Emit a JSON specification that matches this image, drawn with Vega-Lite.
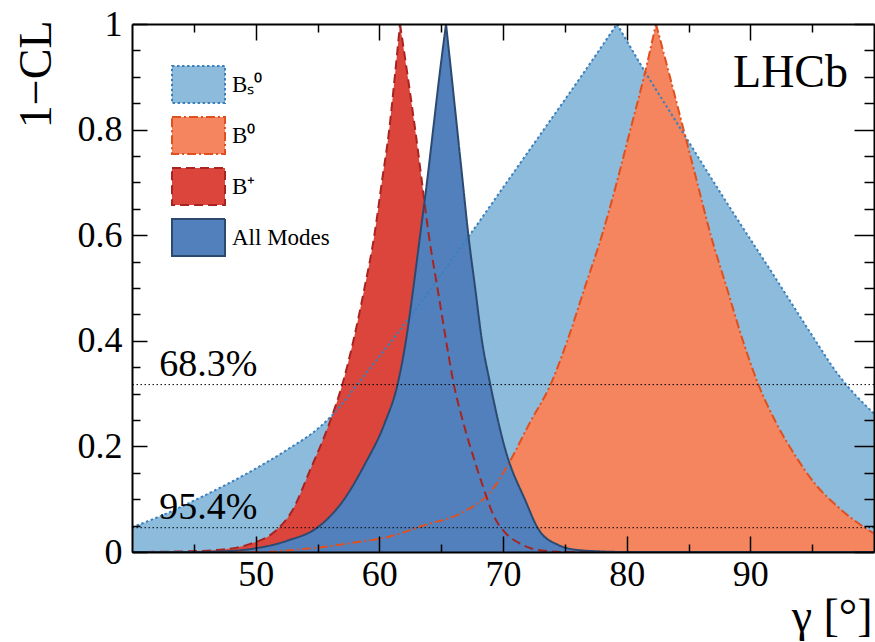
{
  "$schema": "https://vega.github.io/schema/vega-lite/v6.json",
  "width": 742,
  "height": 528,
  "autosize": {"type": "none"},
  "padding": {"left": 132, "top": 24, "right": 1, "bottom": 90},
  "background": "white",
  "config": {"font": "Liberation Serif", "view": {"stroke": null}},
  "datasets": {
    "curves": [
      {"s":"Bₛ⁰","h":"L","g":40,"p":0.047},{"s":"Bₛ⁰","h":"L","g":42.1,"p":0.066},{"s":"Bₛ⁰","h":"L","g":45.6,"p":0.104},{"s":"Bₛ⁰","h":"L","g":49.4,"p":0.15},{"s":"Bₛ⁰","h":"L","g":52.5,"p":0.193},{"s":"Bₛ⁰","h":"L","g":55.2,"p":0.237},{"s":"Bₛ⁰","h":"L","g":56.8,"p":0.275},{"s":"Bₛ⁰","h":"L","g":58.3,"p":0.32},{"s":"Bₛ⁰","h":"L","g":61.0,"p":0.40},{"s":"Bₛ⁰","h":"L","g":64.2,"p":0.5},{"s":"Bₛ⁰","h":"L","g":67.3,"p":0.6},{"s":"Bₛ⁰","h":"L","g":70.3,"p":0.7},{"s":"Bₛ⁰","h":"L","g":73.3,"p":0.8},{"s":"Bₛ⁰","h":"L","g":76.3,"p":0.9},{"s":"Bₛ⁰","h":"L","g":79.218,"p":1},
      {"s":"Bₛ⁰","h":"R","g":79.218,"p":1},{"s":"Bₛ⁰","h":"R","g":81.6,"p":0.905},{"s":"Bₛ⁰","h":"R","g":84,"p":0.815},{"s":"Bₛ⁰","h":"R","g":88,"p":0.665},{"s":"Bₛ⁰","h":"R","g":92,"p":0.52},{"s":"Bₛ⁰","h":"R","g":95,"p":0.41},{"s":"Bₛ⁰","h":"R","g":97.1,"p":0.336},{"s":"Bₛ⁰","h":"R","g":100,"p":0.262},
      {"s":"B⁰","h":"L","g":40,"p":0},{"s":"B⁰","h":"L","g":50.7,"p":0},{"s":"B⁰","h":"L","g":53,"p":0.004},{"s":"B⁰","h":"L","g":55.3,"p":0.009},{"s":"B⁰","h":"L","g":58,"p":0.018},{"s":"B⁰","h":"L","g":60.6,"p":0.028},{"s":"B⁰","h":"L","g":63.7,"p":0.051},{"s":"B⁰","h":"L","g":66.8,"p":0.076},{"s":"B⁰","h":"L","g":69.1,"p":0.117},{"s":"B⁰","h":"L","g":70.4,"p":0.165},{"s":"B⁰","h":"L","g":72.15,"p":0.244},{"s":"B⁰","h":"L","g":73.9,"p":0.32},{"s":"B⁰","h":"L","g":75.2,"p":0.40},{"s":"B⁰","h":"L","g":76.6,"p":0.5},{"s":"B⁰","h":"L","g":78.0,"p":0.6},{"s":"B⁰","h":"L","g":79.2,"p":0.7},{"s":"B⁰","h":"L","g":80.3,"p":0.8},{"s":"B⁰","h":"L","g":81.4,"p":0.9},{"s":"B⁰","h":"L","g":82.372,"p":1},
      {"s":"B⁰","h":"R","g":82.372,"p":1},{"s":"B⁰","h":"R","g":83.5,"p":0.9},{"s":"B⁰","h":"R","g":84.6,"p":0.8},{"s":"B⁰","h":"R","g":85.7,"p":0.7},{"s":"B⁰","h":"R","g":86.8,"p":0.6},{"s":"B⁰","h":"R","g":88.1,"p":0.5},{"s":"B⁰","h":"R","g":89.4,"p":0.40},{"s":"B⁰","h":"R","g":90.6,"p":0.32},{"s":"B⁰","h":"R","g":92.1,"p":0.244},{"s":"B⁰","h":"R","g":93.7,"p":0.18},{"s":"B⁰","h":"R","g":95.2,"p":0.13},{"s":"B⁰","h":"R","g":97.1,"p":0.085},{"s":"B⁰","h":"R","g":99.0,"p":0.05},{"s":"B⁰","h":"R","g":100,"p":0.035},
      {"s":"B⁺","h":"L","g":40,"p":0},{"s":"B⁺","h":"L","g":44,"p":0.001},{"s":"B⁺","h":"L","g":47.5,"p":0.005},{"s":"B⁺","h":"L","g":49.5,"p":0.015},{"s":"B⁺","h":"L","g":51.4,"p":0.036},{"s":"B⁺","h":"L","g":53.0,"p":0.08},{"s":"B⁺","h":"L","g":54.4,"p":0.155},{"s":"B⁺","h":"L","g":55.9,"p":0.24},{"s":"B⁺","h":"L","g":57.1,"p":0.325},{"s":"B⁺","h":"L","g":57.9,"p":0.40},{"s":"B⁺","h":"L","g":58.8,"p":0.5},{"s":"B⁺","h":"L","g":59.6,"p":0.6},{"s":"B⁺","h":"L","g":60.2,"p":0.7},{"s":"B⁺","h":"L","g":60.8,"p":0.8},{"s":"B⁺","h":"L","g":61.25,"p":0.9},{"s":"B⁺","h":"L","g":61.671,"p":1},
      {"s":"B⁺","h":"R","g":61.671,"p":1},{"s":"B⁺","h":"R","g":62.3,"p":0.9},{"s":"B⁺","h":"R","g":62.9,"p":0.8},{"s":"B⁺","h":"R","g":63.45,"p":0.7},{"s":"B⁺","h":"R","g":64.0,"p":0.6},{"s":"B⁺","h":"R","g":64.7,"p":0.5},{"s":"B⁺","h":"R","g":65.4,"p":0.40},{"s":"B⁺","h":"R","g":66.0,"p":0.32},{"s":"B⁺","h":"R","g":66.8,"p":0.244},{"s":"B⁺","h":"R","g":67.5,"p":0.188},{"s":"B⁺","h":"R","g":68.3,"p":0.13},{"s":"B⁺","h":"R","g":69.3,"p":0.066},{"s":"B⁺","h":"R","g":70.2,"p":0.036},{"s":"B⁺","h":"R","g":71.3,"p":0.017},{"s":"B⁺","h":"R","g":72.8,"p":0.004},{"s":"B⁺","h":"R","g":75,"p":0},{"s":"B⁺","h":"R","g":100,"p":0},
      {"s":"All Modes","h":"L","g":40,"p":0},{"s":"All Modes","h":"L","g":45,"p":0},{"s":"All Modes","h":"L","g":48,"p":0.002},{"s":"All Modes","h":"L","g":50,"p":0.007},{"s":"All Modes","h":"L","g":52.5,"p":0.021},{"s":"All Modes","h":"L","g":55.2,"p":0.05},{"s":"All Modes","h":"L","g":57.1,"p":0.098},{"s":"All Modes","h":"L","g":58.8,"p":0.165},{"s":"All Modes","h":"L","g":60.45,"p":0.245},{"s":"All Modes","h":"L","g":61.5,"p":0.32},{"s":"All Modes","h":"L","g":62.15,"p":0.40},{"s":"All Modes","h":"L","g":62.75,"p":0.5},{"s":"All Modes","h":"L","g":63.3,"p":0.6},{"s":"All Modes","h":"L","g":63.85,"p":0.7},{"s":"All Modes","h":"L","g":64.35,"p":0.8},{"s":"All Modes","h":"L","g":64.85,"p":0.9},{"s":"All Modes","h":"L","g":65.392,"p":1},
      {"s":"All Modes","h":"R","g":65.392,"p":1},{"s":"All Modes","h":"R","g":65.85,"p":0.9},{"s":"All Modes","h":"R","g":66.3,"p":0.8},{"s":"All Modes","h":"R","g":66.75,"p":0.7},{"s":"All Modes","h":"R","g":67.2,"p":0.6},{"s":"All Modes","h":"R","g":67.75,"p":0.5},{"s":"All Modes","h":"R","g":68.3,"p":0.40},{"s":"All Modes","h":"R","g":68.95,"p":0.32},{"s":"All Modes","h":"R","g":70.2,"p":0.193},{"s":"All Modes","h":"R","g":71.8,"p":0.098},{"s":"All Modes","h":"R","g":72.9,"p":0.042},{"s":"All Modes","h":"R","g":74.5,"p":0.013},{"s":"All Modes","h":"R","g":76,"p":0.004},{"s":"All Modes","h":"R","g":78,"p":0.001},{"s":"All Modes","h":"R","g":80,"p":0},{"s":"All Modes","h":"R","g":100,"p":0}
    ],
    "cls": [{"cl": 0.317, "t": "68.3%"}, {"cl": 0.046, "t": "95.4%"}],
    "tag": [{"t": "LHCb"}]
  },
  "layer": [
    {
      "data": {"name": "curves"},
      "mark": {"type": "area", "interpolate": "monotone"},
      "encoding": {
        "x": {"field": "g", "type": "quantitative", "scale": {"domain": [40, 100], "nice": false, "zero": false},
          "axis": {"orient": "bottom", "values": [45,50,55,60,65,70,75,80,85,90,95], "grid": false, "zindex": 1,
            "tickSize": {"condition": {"test": "datum.value % 10 === 0", "value": -16}, "value": -8},
            "tickColor": "black", "tickWidth": 1.5, "domainColor": "black", "domainWidth": 2,
            "labelExpr": "datum.value % 10 === 0 ? datum.label : ''", "labelFont": "Liberation Serif", "labelFontSize": 36, "labelColor": "black", "labelPadding": 21,
            "title": "γ [°]", "titleFont": "Liberation Serif", "titleFontSize": 46, "titleFontWeight": "normal", "titleColor": "black",
            "titleAnchor": "end", "titleAlign": "right", "titleBaseline": "alphabetic", "titleX": 740, "titleY": 78}},
        "y": {"field": "p", "type": "quantitative", "stack": null, "scale": {"domain": [0, 1], "nice": false},
          "axis": {"orient": "left", "values": [0,0.05,0.1,0.15,0.2,0.25,0.3,0.35,0.4,0.45,0.5,0.55,0.6,0.65,0.7,0.75,0.8,0.85,0.9,0.95,1], "grid": false, "zindex": 1,
            "tickSize": {"condition": {"test": "abs(datum.value*5 - round(datum.value*5)) < 0.000001", "value": -15}, "value": -8},
            "tickColor": "black", "tickWidth": 1.5, "domainColor": "black", "domainWidth": 2,
            "labelExpr": "abs(datum.value*5 - round(datum.value*5)) < 0.000001 ? toString(round(datum.value*10)/10) : ''", "labelFont": "Liberation Serif", "labelFontSize": 36, "labelColor": "black", "labelPadding": 25,
            "title": "1−CL", "titleFont": "Liberation Serif", "titleFontSize": 46, "titleFontWeight": "normal", "titleColor": "black",
            "titleAngle": -90, "titleAlign": "right", "titleBaseline": "alphabetic", "titleX": -82, "titleY": -4}},
        "detail": {"field": "h", "type": "nominal"},
        "fill": {"field": "s", "type": "nominal",
          "scale": {"domain": ["Bₛ⁰", "B⁰", "B⁺", "All Modes"], "range": ["#8dbbdb", "#f5855f", "#dc453b", "#5280bd"]},
          "legend": {"orient": "none", "legendX": 39, "legendY": 33, "title": null, "padding": 0,
            "symbolType": "M-1,-0.7H1V0.7H-1Z", "symbolSize": 2809, "symbolStrokeWidth": 2, "symbolOpacity": 1,
            "labelFont": "Liberation Serif", "labelFontSize": 23, "labelColor": "black", "labelOffset": 6, "rowPadding": -2}}
      }
    },
    {
      "data": {"name": "curves"},
      "mark": {"type": "line", "interpolate": "monotone", "strokeWidth": 2},
      "encoding": {
        "x": {"field": "g", "type": "quantitative",
          "axis": {"orient": "top", "values": [45,50,55,60,65,70,75,80,85,90,95], "grid": false, "zindex": 1, "labels": false, "title": null,
            "tickSize": {"condition": {"test": "datum.value % 10 === 0", "value": -16}, "value": -8},
            "tickColor": "black", "tickWidth": 1.5, "domainColor": "black", "domainWidth": 2}},
        "y": {"field": "p", "type": "quantitative", "stack": null,
          "axis": {"orient": "right", "values": [0,0.05,0.1,0.15,0.2,0.25,0.3,0.35,0.4,0.45,0.5,0.55,0.6,0.65,0.7,0.75,0.8,0.85,0.9,0.95,1], "grid": false, "zindex": 1, "labels": false, "title": null,
            "tickSize": {"condition": {"test": "abs(datum.value*5 - round(datum.value*5)) < 0.000001", "value": -20}, "value": -10},
            "tickColor": "black", "tickWidth": 1.5, "domainColor": "black", "domainWidth": 2}},
        "detail": {"field": "h", "type": "nominal"},
        "stroke": {"field": "s", "type": "nominal",
          "scale": {"domain": ["Bₛ⁰", "B⁰", "B⁺", "All Modes"], "range": ["#3a80bd", "#e0501f", "#a82420", "#2c4a70"]}},
        "strokeDash": {"field": "s", "type": "nominal",
          "scale": {"domain": ["Bₛ⁰", "B⁰", "B⁺", "All Modes"], "range": [[2.5, 2.5], [9, 3, 2, 3], [9, 5], [1, 0]]}}
      }
    },
    {
      "data": {"name": "cls"},
      "mark": {"type": "rule", "color": "black", "strokeWidth": 1, "strokeDash": [1.5, 2.5]},
      "encoding": {"y": {"field": "cl", "type": "quantitative", "axis": null}}
    },
    {
      "data": {"name": "cls"},
      "mark": {"type": "text", "align": "left", "baseline": "alphabetic", "dy": -9, "font": "Liberation Serif", "fontSize": 38, "color": "black"},
      "encoding": {
        "x": {"datum": 42.2, "type": "quantitative", "axis": null},
        "y": {"field": "cl", "type": "quantitative", "axis": null},
        "text": {"field": "t"}
      }
    },
    {
      "data": {"name": "tag"},
      "mark": {"type": "text", "align": "right", "baseline": "alphabetic", "font": "Liberation Serif", "fontSize": 46, "color": "black"},
      "encoding": {
        "x": {"datum": 97.9, "type": "quantitative", "axis": null},
        "y": {"datum": 0.881, "type": "quantitative", "axis": null},
        "text": {"field": "t"}
      }
    }
  ],
  "resolve": {"axis": {"x": "independent", "y": "independent"}}
}
